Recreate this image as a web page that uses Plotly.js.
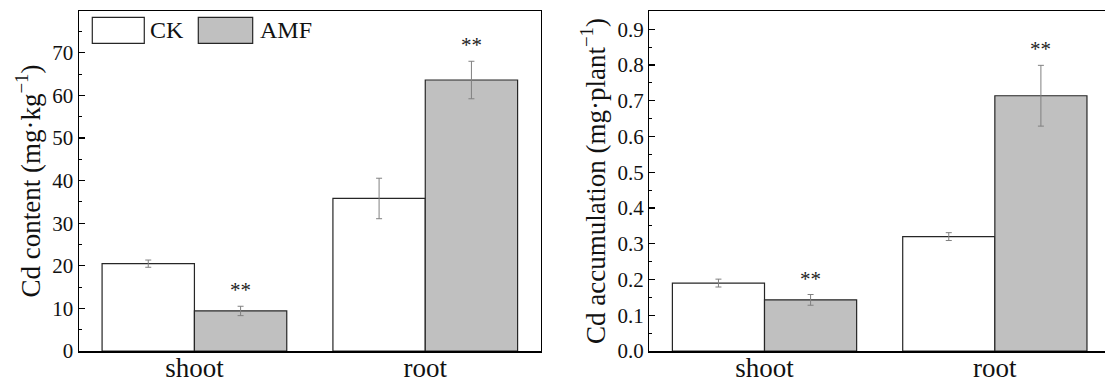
<!DOCTYPE html>
<html>
<head>
<meta charset="utf-8">
<script src="https://cdn.plot.ly/plotly-3.0.1.min.js"></script>
<style>
html,body{margin:0;padding:0;overflow:hidden;background:#fff;}
#chart{width:1112px;height:385px;}
</style>
</head>
<body>
<div id="chart"></div>
<script>
const categories = ['shoot', 'root'];
const seriesNames = ['CK', 'AMF'];
// Cd content (mg·kg-1)
const ckContent = [20.5, 35.8];
const ckContentErr = [0.85, 4.75];
const amfContent = [9.4, 63.6];
const amfContentErr = [1.1, 4.4];
// Cd accumulation (mg·plant-1)
const ckAccum = [0.19, 0.32];
const ckAccumErr = [0.011, 0.011];
const amfAccum = [0.143, 0.714];
const amfAccumErr = [0.015, 0.085];
// significance marks on AMF bars
const contentSig = ['**', '**'];
const accumSig = ['**', '**'];

const FONT = "'Liberation Serif', 'Times New Roman', Times, serif";
const ckFill = '#ffffff';
const amfFill = '#c0c0c0';
const errColor = '#808080';

function barTrace(name, y, err, fill, xa, ya) {
  return {
    type: 'bar', name: name, x: categories, y: y,
    xaxis: xa, yaxis: ya,
    marker: {color: fill, line: {color: '#262626', width: 1.2}},
    error_y: {type: 'data', array: err, visible: true, color: errColor, thickness: 1, width: 3},
    showlegend: false, hoverinfo: 'x+y'
  };
}

const data = [
  barTrace(seriesNames[0], ckContent, ckContentErr, ckFill, 'x', 'y'),
  barTrace(seriesNames[1], amfContent, amfContentErr, amfFill, 'x', 'y'),
  barTrace(seriesNames[0], ckAccum, ckAccumErr, ckFill, 'x2', 'y2'),
  barTrace(seriesNames[1], amfAccum, amfAccumErr, amfFill, 'x2', 'y2')
];

const annotations = [];
categories.forEach((c, i) => {
  annotations.push({xref: 'x', yref: 'y', x: i + 0.2, y: amfContent[i] + amfContentErr[i],
    text: contentSig[i], showarrow: false, yanchor: 'bottom', yshift: 2,
    font: {family: FONT, size: 21, color: '#222'}});
  annotations.push({xref: 'x2', yref: 'y2', x: i + 0.2, y: amfAccum[i] + amfAccumErr[i],
    text: accumSig[i], showarrow: false, yanchor: 'bottom', yshift: 2,
    font: {family: FONT, size: 21, color: '#222'}});
});
// legend labels
annotations.push({xref: 'x domain', yref: 'y domain', x: 0.1494, y: 0.943, xanchor: 'left', yanchor: 'middle',
  text: seriesNames[0], showarrow: false, font: {family: FONT, size: 24, color: '#111'}});
annotations.push({xref: 'x domain', yref: 'y domain', x: 0.3877, y: 0.943, xanchor: 'left', yanchor: 'middle',
  text: seriesNames[1], showarrow: false, font: {family: FONT, size: 24, color: '#111'}});

const shapes = [
  {type: 'rect', xref: 'x domain', yref: 'y domain', x0: 0.0288, x1: 0.1414, y0: 0.905, y1: 0.9815,
    fillcolor: ckFill, line: {color: '#262626', width: 1.2}},
  {type: 'rect', xref: 'x domain', yref: 'y domain', x0: 0.2584, x1: 0.3762, y0: 0.905, y1: 0.9815,
    fillcolor: amfFill, line: {color: '#262626', width: 1.2}}
];

const xBase = {
  type: 'category', range: [-0.5, 1.5], showline: true, mirror: true,
  linecolor: '#000', linewidth: 1.5, ticks: '', showgrid: false, zeroline: false,
  ticklabelstandoff: -8,
  tickfont: {family: FONT, size: 27, color: '#111'}
};
const yBase = {
  showline: true, mirror: true, linecolor: '#000', linewidth: 1.5,
  ticks: 'inside', ticklen: 6, tickwidth: 1.2, tickcolor: '#000',
  showgrid: false, zeroline: false,
  tickfont: {family: FONT, size: 21, color: '#111'}
};

const layout = {
  width: 1112, height: 385,
  margin: {l: 79, r: 2, t: 11, b: 34.3},
  paper_bgcolor: '#fff', plot_bgcolor: '#fff',
  barmode: 'group', bargap: 0.2, bargroupgap: 0,
  font: {family: FONT},
  xaxis: Object.assign({}, xBase, {domain: [0, 0.4478], anchor: 'y'}),
  xaxis2: Object.assign({}, xBase, {domain: [0.5532, 1], anchor: 'y2'}),
  yaxis: Object.assign({}, yBase, {
    domain: [0, 1], anchor: 'x', range: [0, 79.8], dtick: 10, tick0: 0,
    minor: {dtick: 5, ticks: 'inside', ticklen: 3, tickcolor: '#000', tickwidth: 1},
    title: {text: 'Cd content (mg·kg<sup>−1</sup>)', font: {family: FONT, size: 27, color: '#111'}, standoff: 4}
  }),
  yaxis2: Object.assign({}, yBase, {
    domain: [0, 1], anchor: 'x2', range: [0, 0.951], dtick: 0.1, tick0: 0, tickformat: '.1f',
    minor: {dtick: 0.05, ticks: 'inside', ticklen: 3, tickcolor: '#000', tickwidth: 1},
    title: {text: 'Cd accumulation (mg·plant<sup>−1</sup>)', font: {family: FONT, size: 27, color: '#111'}, standoff: 4}
  }),
  annotations: annotations,
  shapes: shapes
};

Plotly.newPlot('chart', data, layout, {displayModeBar: false, staticPlot: true});
</script>
</body>
</html>
